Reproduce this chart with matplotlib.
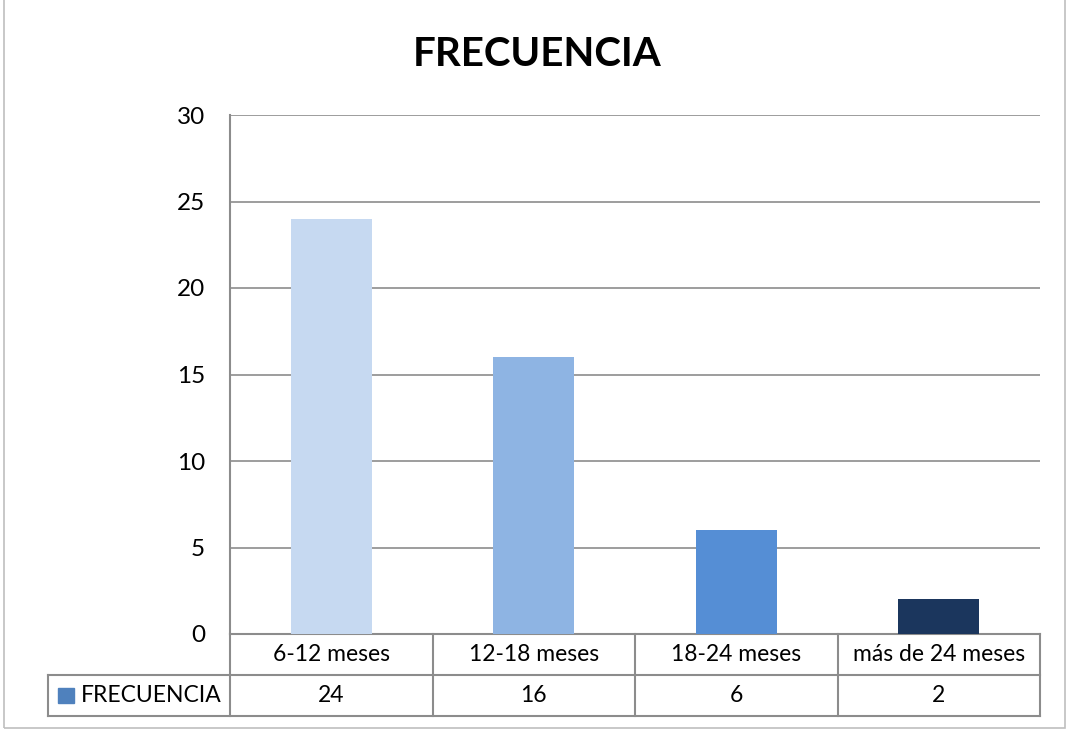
import matplotlib.pyplot as plt
from matplotlib.patches import Rectangle
from matplotlib.transforms import blended_transform_factory

# Datos del grafico
categorias = ['6-12 meses', '12-18 meses', '18-24 meses', 'más de 24 meses']
frecuencia = [24, 16, 6, 2]
colores = ['#C6D9F1', '#8EB4E3', '#558ED5', '#1B365D']
serie = 'FRECUENCIA'

plt.rcParams['font.family'] = ['Lato', 'DejaVu Sans']

fig = plt.figure(figsize=(10.68, 7.30), dpi=100)
W, H = 1068, 730
ax = fig.add_axes([230 / W, (730 - 634) / H, 810 / W, 519 / H])

x = range(len(categorias))
ax.bar(x, frecuencia, width=0.4, color=colores, zorder=3)

ax.set_xlim(-0.5, len(categorias) - 0.5)
ax.set_ylim(0, 30)
ax.set_yticks([0, 5, 10, 15, 20, 25, 30])
ax.tick_params(axis='y', length=0, labelsize=17.5, pad=18)
ax.set_xticks([])
ax.yaxis.grid(True, color='#8c8c8c', linewidth=1.2, zorder=0)
for s in ['top', 'right', 'bottom']:
    ax.spines[s].set_visible(False)
ax.spines['left'].set_color('#8c8c8c')
ax.spines['left'].set_linewidth(1.5)

fig.text(537 / W, 1 - 55 / H, serie, ha='center', va='center',
         fontsize=29, fontweight='bold')

# Tabla de datos debajo del eje
tr = blended_transform_factory(ax.transData, ax.transAxes)
fila1 = -41 / 519
fila2 = -82 / 519
izq = -0.5 - 182 / 202.5
gris = '#8c8c8c'
lw = 1.5
n = len(categorias)
kw = dict(transform=tr, color=gris, linewidth=lw, clip_on=False)
ax.plot([-0.5, n - 0.5], [0, 0], **kw)
ax.plot([izq, n - 0.5], [fila1, fila1], **kw)
ax.plot([izq, n - 0.5], [fila2, fila2], **kw)
ax.plot([izq, izq], [fila1, fila2], **kw)
ax.plot([-0.5, -0.5], [0, fila2], **kw)
for i in range(n):
    ax.plot([i + 0.5, i + 0.5], [0, fila2], **kw)
    ax.text(i, fila1 / 2, categorias[i], transform=tr, ha='center',
            va='center', fontsize=16.5)
    ax.text(i, (fila1 + fila2) / 2, str(frecuencia[i]), transform=tr,
            ha='center', va='center', fontsize=16.5)

# Leyenda en la tabla
ax.add_patch(Rectangle((izq + 0.05, (fila1 + fila2) / 2 - 0.015), 0.078, 0.03,
                       transform=tr, color='#4F81BD', clip_on=False))
ax.text(izq + 0.16, (fila1 + fila2) / 2, serie, transform=tr, ha='left',
        va='center', fontsize=16.5)

# Borde del area del grafico
fig.patches.append(Rectangle((4 / W, 2 / H), 1061 / W, 740 / H,
                             transform=fig.transFigure, fill=False,
                             edgecolor='#bfbfbf', linewidth=1.2))

fig.savefig('out.png', dpi=100)
